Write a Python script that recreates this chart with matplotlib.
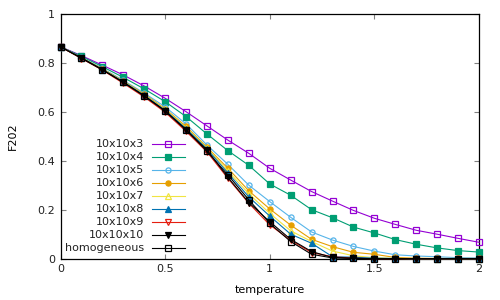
import matplotlib
matplotlib.use("Agg")
import matplotlib.pyplot as plt
from matplotlib.lines import Line2D
import numpy as np

temperature = [round(0.1 * i, 1) for i in range(21)]

f_3 = [0.865, 0.829, 0.790, 0.750, 0.705, 0.655, 0.600, 0.542, 0.484, 0.430, 0.369,
       0.321, 0.274, 0.235, 0.197, 0.165, 0.140, 0.116, 0.100, 0.083, 0.067]
f_4 = [0.865, 0.826, 0.784, 0.740, 0.693, 0.641, 0.580, 0.509, 0.441, 0.381, 0.305,
       0.259, 0.200, 0.167, 0.129, 0.105, 0.078, 0.059, 0.044, 0.033, 0.027]
f_5 = [0.865, 0.822, 0.777, 0.728, 0.676, 0.620, 0.550, 0.464, 0.385, 0.300, 0.233,
       0.169, 0.109, 0.076, 0.050, 0.031, 0.016, 0.011, 0.008, 0.004, 0.003]
f_6 = [0.865, 0.820, 0.775, 0.725, 0.672, 0.612, 0.540, 0.455, 0.369, 0.277, 0.203,
       0.137, 0.079, 0.049, 0.026, 0.018, 0.005, 0.002, 0.001, 0.001, 0.001]
f_7 = [0.865, 0.820, 0.774, 0.723, 0.669, 0.609, 0.535, 0.452, 0.358, 0.265, 0.185,
       0.114, 0.070, 0.031, 0.012, 0.004, 0.001, 0.000, 0.000, 0.000, 0.000]
f_8 = [0.865, 0.819, 0.772, 0.722, 0.667, 0.606, 0.531, 0.448, 0.350, 0.252, 0.174,
       0.100, 0.063, 0.008, 0.006, 0.002, 0.001, 0.000, 0.000, 0.000, 0.000]
f_9 = [0.865, 0.817, 0.770, 0.716, 0.660, 0.598, 0.520, 0.436, 0.328, 0.226, 0.138,
       0.075, 0.025, 0.008, 0.002, 0.000, 0.000, 0.000, 0.000, 0.000, 0.000]
f_10 = [0.865, 0.818, 0.771, 0.720, 0.664, 0.603, 0.525, 0.444, 0.332, 0.229, 0.151,
        0.079, 0.029, 0.005, 0.002, 0.000, 0.000, 0.000, 0.000, 0.000, 0.000]
f_hom = [0.865, 0.820, 0.772, 0.720, 0.665, 0.603, 0.527, 0.438, 0.342, 0.240, 0.144,
         0.070, 0.018, 0.003, 0.001, 0.000, 0.000, 0.000, 0.000, 0.000, 0.000]

labels = ["10x10x3", "10x10x4", "10x10x5", "10x10x6", "10x10x7",
          "10x10x8", "10x10x9", "10x10x10", "homogeneous"]
series = [f_3, f_4, f_5, f_6, f_7, f_8, f_9, f_10, f_hom]
colors = ["#9400d3", "#009e73", "#56b4e9", "#e69f00", "#f0e442",
          "#0072b2", "#e51e10", "#000000", "#000000"]
markers = ["s", "s", "o", "o", "^", "^", "v", "v", "s"]
filled = [False, True, False, True, False, True, False, True, False]

plt.rcParams["font.family"] = ["DejaVu Sans"]
fig = plt.figure(figsize=(5, 3), dpi=100)
ax = fig.add_axes([0.121, 0.1377, 0.837, 0.8166])

MS = 3.7
for y, c, m, f in zip(series, colors, markers, filled):
    ax.plot(temperature, y, color=c, lw=0.8, marker=m, ms=MS, mew=0.9,
            markerfacecolor=c if f else "none", markeredgecolor=c, clip_on=False, zorder=3)

ax.set_xlim(0, 2)
ax.set_ylim(0, 1)
ax.set_xticks([0, 0.5, 1, 1.5, 2])
ax.set_xticklabels(["0", "0.5", "1", "1.5", "2"])
ax.set_yticks([0, 0.2, 0.4, 0.6, 0.8, 1])
ax.set_yticklabels(["0", "0.2", "0.4", "0.6", "0.8", "1"])
ax.tick_params(direction="in", length=3.6, width=0.8, color="#808080",
               top=True, right=True, labelsize=8, pad=4, labelcolor="#222222")
for s in ax.spines.values():
    s.set_linewidth(0.9)
ax.set_xlabel("temperature", fontsize=8, labelpad=8)
ax.set_ylabel("F202", fontsize=8, labelpad=14)

# manual gnuplot-style legend (text right aligned, sample on the right)
y0 = 258.7
def to_axes(px, py):
    return ((px - 60.5) / 418.5, (y0 - py) / 245.0)

for i, (lab, c, m, f) in enumerate(zip(labels, colors, markers, filled)):
    py = 144.5 + 13.0 * i
    tx, ty = to_axes(144, py)
    ax.text(tx, ty, lab, transform=ax.transAxes, ha="right", va="center",
            fontsize=8, color="#222222")
    x1, yy = to_axes(151.5, py)
    x2, _ = to_axes(185, py)
    ax.add_line(Line2D([x1, x2], [yy, yy], transform=ax.transAxes, color=c, lw=0.8))
    ax.add_line(Line2D([(x1 + x2) / 2], [yy], transform=ax.transAxes, color=c,
                       marker=m, ms=MS, mew=0.9,
                       markerfacecolor=c if f else "none", markeredgecolor=c))

fig.savefig("out.png", dpi=100)
